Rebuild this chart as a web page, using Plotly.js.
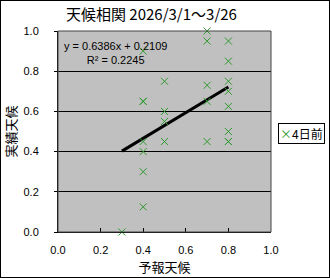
<!DOCTYPE html>
<html>
<head>
<meta charset="utf-8">
<script src="https://cdn.plot.ly/plotly-3.0.1.min.js"></script>
<style>
html,body{margin:0;padding:0;background:#fff;}
#wrap{position:relative;width:330px;height:278px;}
#chart{width:330px;height:278px;}
#frame{position:absolute;left:0;top:0;width:330px;height:278px;box-sizing:border-box;border:1px solid #000;pointer-events:none;}
</style>
</head>
<body>
<div id="wrap"><div id="chart"></div><div id="frame"></div></div>
<script>
// Forecast weather score (x) vs actual weather score (y), 4 days ahead
const forecastVals = [0.3,
  0.4,0.4,0.4,0.4,0.4,0.4,0.4,
  0.5,0.5,0.5,0.5,
  0.7,0.7,0.7,0.7,0.7,
  0.8,0.8,0.8,0.8,0.8,0.8,0.8,0.8];
const actualVals = [0.0,
  0.9,0.65,0.65,0.45,0.4,0.3,0.125,
  0.75,0.6,0.55,0.45,
  1.0,0.95,0.73,0.65,0.45,
  0.95,0.85,0.75,0.7,0.625,0.5,0.45,0.45];
const seriesName = "4日前";
const trendSlope = 0.6386;
const trendIntercept = 0.2109;
const trendR2 = 0.2245;
const xTicks = [0, 0.2, 0.4, 0.6, 0.8, 1.0];
const yTicks = [0, 0.2, 0.4, 0.6, 0.8, 1.0];
const chartTitle = "天候相関 2026/3/1～3/26";
const xTitle = "予報天候";
const yTitle = "実績天候";

const green = "#2f9a2f";
const xMin = Math.min(...forecastVals), xMax = Math.max(...forecastVals);
const trendX = [xMin, xMax];
const trendY = trendX.map(v => trendSlope * v + trendIntercept);

const traces = [
  {
    x: trendX, y: trendY, mode: "lines", type: "scatter",
    line: {color: "#000", width: 3}, showlegend: false, hoverinfo: "skip"
  },
  {
    x: forecastVals, y: actualVals, mode: "markers", type: "scatter", name: seriesName,
    marker: {symbol: "x-thin-open", size: 7, color: green, line: {color: green, width: 1}},
    cliponaxis: false, showlegend: false
  }
];

const tickFont = {family: "Liberation Sans, Arial, sans-serif", size: 11, color: "#000"};
const cjk = "Noto Sans CJK JP, sans-serif";

const layout = {
  width: 330, height: 278,
  margin: {l: 58, r: 59, t: 31, b: 46},
  paper_bgcolor: "#fff",
  plot_bgcolor: "#c0c0c0",
  showlegend: false,
  title: {text: chartTitle, font: {family: cjk, size: 15, color: "#000"},
          x: 0.459, xref: "container", xanchor: "center", y: 0.946, yref: "container", yanchor: "middle"},
  xaxis: {
    range: [0, 1], tickvals: xTicks, ticktext: xTicks.map(v => v.toFixed(1)),
    showgrid: false, zeroline: false, showline: true, linecolor: "#000", linewidth: 1,
    ticks: "inside", ticklen: 4, tickcolor: "#000", tickfont: tickFont, ticklabelstandoff: 8,
    title: {text: xTitle, font: {family: cjk, size: 13, color: "#000"}, standoff: 7},
    fixedrange: true
  },
  yaxis: {
    range: [0, 1], tickvals: yTicks, ticktext: yTicks.map(v => v.toFixed(1)),
    showgrid: true, gridcolor: "#000", gridwidth: 1, zeroline: false,
    showline: true, linecolor: "#000", linewidth: 1,
    ticks: "outside", ticklen: 3, tickcolor: "#000", tickfont: tickFont, ticklabelstandoff: 13,
    title: {text: yTitle, font: {family: cjk, size: 13, color: "#000"}, standoff: 3},
    fixedrange: true
  },
  shapes: [
    {type: "rect", xref: "paper", yref: "paper", x0: 0, x1: 1, y0: 0, y1: 1,
     line: {color: "#444", width: 1}, layer: "above"}
  ],
  annotations: [
    {xref: "paper", yref: "paper", x: 0.268, y: 0.89, xanchor: "center", yanchor: "middle",
     align: "center", showarrow: false,
     text: "y = " + trendSlope.toFixed(4) + "x + " + trendIntercept.toFixed(4) + "<br>R² = " + trendR2.toFixed(4),
     font: {family: "Liberation Sans, Arial, sans-serif", size: 11, color: "#000"}},
    {xref: "paper", yref: "paper", x: 1.141, y: 0.4876, xanchor: "center", yanchor: "middle",
     showarrow: false, bgcolor: "#fff", bordercolor: "#000", borderwidth: 1, borderpad: 1,
     text: "<span style='color:" + green + "'>×</span>" + seriesName,
     font: {family: cjk, size: 12, color: "#000"}}
  ]
};

Plotly.newPlot("chart", traces, layout, {staticPlot: true, displayModeBar: false});
</script>
</body>
</html>
